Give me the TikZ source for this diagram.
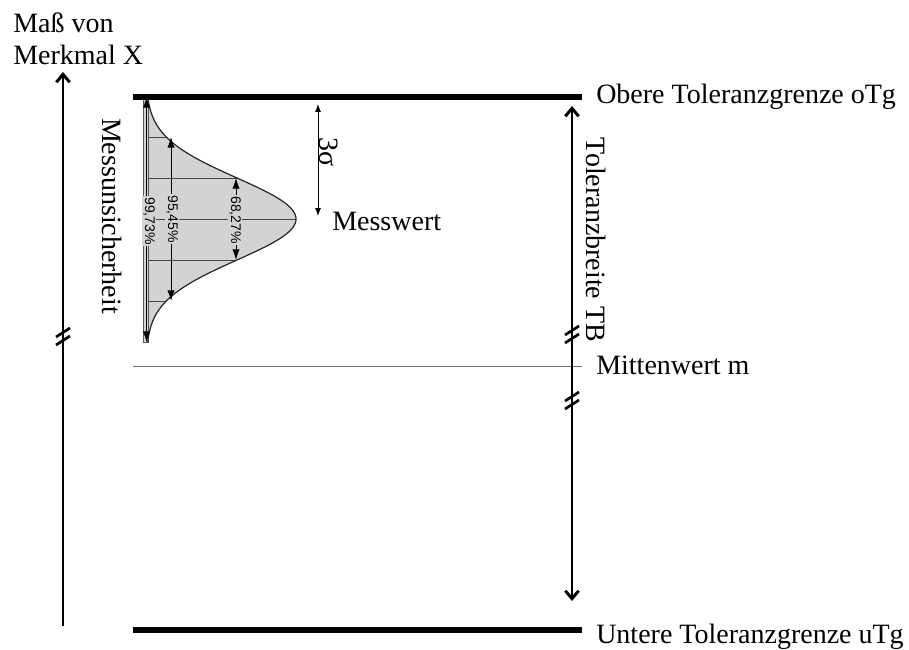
\documentclass[tikz,border=0pt]{standalone}
\usepackage{fontspec}
\setmainfont{Liberation Serif}
\newfontfamily\sansf{Liberation Sans}
\usetikzlibrary{arrows.meta}
\definecolor{curvegray}{RGB}{211,211,211}
\definecolor{linegray}{RGB}{70,70,70}
\begin{document}
\begin{tikzpicture}[x=0.75pt,y=-0.75pt,
  lbl/.style={font=\fontsize{21}{24}\selectfont, inner sep=0pt},
  pct/.style={font=\sansf\fontsize{10.5}{12}\selectfont, rotate=-90, fill=curvegray, inner sep=1.2pt},
  thickline/.style={line width=3.8pt},
  axisline/.style={line width=2.2pt},
  brk/.style={line width=2pt},
  pa/.style={{Latex[length=8pt,width=5.5pt]}-{Latex[length=8pt,width=5.5pt]}, line width=0.7pt},
  hl/.style={draw=linegray, line width=0.7pt}]
\useasboundingbox (0,0) rectangle (909,649);

% coordinates
\coordinate (tl) at (133,97);   \coordinate (tr) at (582,97);
\coordinate (bl) at (133,630);  \coordinate (br) at (582,630);
\coordinate (ml) at (133,366);  \coordinate (mr) at (582,366);
\coordinate (axb) at (63,626);  \coordinate (axt) at (63,72);
\coordinate (tbt) at (572,106); \coordinate (tbb) at (572,601);

% distribution fill
\fill[curvegray] (146,96) -- plot[domain=96:342, samples=140, variable=\t]
  ({146+150*exp(-0.5*((\t-219)/41)*((\t-219)/41))}, \t) -- (146,342) -- cycle;
% horizontal sigma lines
\draw[hl] (146,137) -- (166.3,137);
\draw[hl] (146,178) -- (237,178);
\draw[hl] (146,219) -- (296,219);
\draw[hl] (146,260) -- (237,260);
\draw[hl] (146,301) -- (166.3,301);
% left narrow bar
\draw[fill=curvegray, draw=black!65, line width=0.7pt] (143,97) rectangle (148.5,342);
% curve
\draw[line width=0.9pt, black!85] plot[domain=96:342, samples=140, variable=\t]
  ({146+150*exp(-0.5*((\t-219)/41)*((\t-219)/41))}, \t);

% percentage arrows
\coordinate (p99t) at (146.5,97);  \coordinate (p99b) at (146.5,342);
\coordinate (p95t) at (171,137);   \coordinate (p95b) at (171,301);
\coordinate (p68t) at (236,178);   \coordinate (p68b) at (236,260);
\draw[pa] (p99t) -- (p99b);
\draw[pa] (p95t) -- (p95b);
\draw[pa] (p68t) -- (p68b);
\node[pct] (l99) at (149,221) {99,73\%};
\node[pct] (l95) at (172,219) {95,45\%};
\node[pct] (l68) at (235,220) {68,27\%};

% 3 sigma arrow
\coordinate (st) at (318,104); \coordinate (sb) at (318,216);
\draw[{Latex[length=6pt,width=4.5pt]}-{Latex[length=6pt,width=4.5pt]}, line width=0.6pt] (st) -- (sb);
\node[lbl, rotate=-90] (sig) at (329,152) {3σ};
\node[lbl, anchor=base west] (messw) at (332,230) {Messwert};

% horizontal limit lines
\draw[thickline] (tl) -- (tr);
\draw[thickline] (bl) -- (br);
\draw[line width=0.7pt, black!55] (ml) -- (mr);

% left axis
\draw[axisline, -{Straight Barb[length=6pt,width=10pt]}] (axb) -- (axt);
\draw[brk] (56,337) -- (70,328);
\draw[brk] (56,345) -- (70,336);

% tolerance width arrow
\draw[axisline, {Straight Barb[length=6pt,width=10pt]}-{Straight Barb[length=6pt,width=10pt]}] (tbb) -- (tbt);
\draw[brk] (565,335) -- (579,326);
\draw[brk] (565,343) -- (579,334);
\draw[brk] (565,401) -- (579,392);
\draw[brk] (565,409) -- (579,400);

% labels
\node[lbl, anchor=base west] (mass) at (13,33) {Maß von};
\node[lbl, anchor=base west] (merk) at (13,65) {Merkmal X};
\node[lbl, anchor=base west] (otg) at (596,104) {Obere Toleranzgrenze oTg};
\node[lbl, anchor=base west] (mw) at (596,374) {Mittenwert m};
\node[lbl, anchor=base west] (utg) at (596,643) {Untere Toleranzgrenze uTg};
\node[lbl, rotate=-90] (tb) at (596,240) {Toleranzbreite TB};
\node[lbl, rotate=-90] (mu) at (112,216) {Messunsicherheit};
\end{tikzpicture}
\end{document}
